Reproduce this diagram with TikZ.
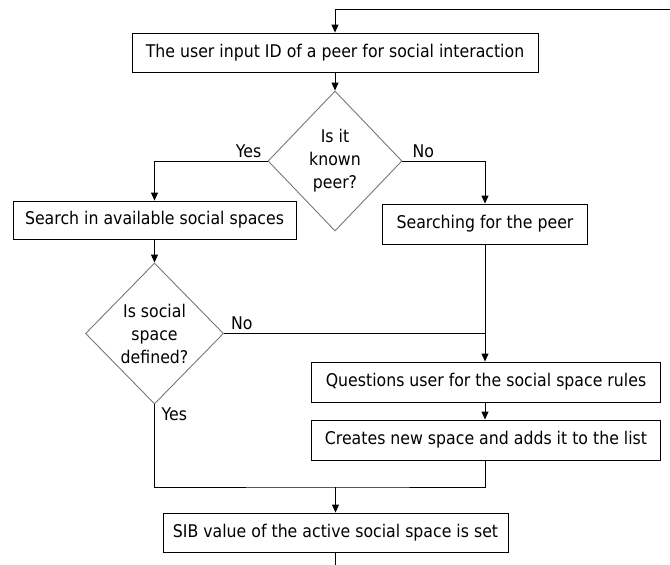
\documentclass[tikz,border=0pt]{standalone}
\usepackage{fontspec}
\setmainfont{DejaVu Sans}[FakeStretch=0.9]
\usepackage{tikz}
\usetikzlibrary{shapes.geometric,arrows.meta}
\definecolor{diamondGray}{RGB}{120,120,120}
\tikzset{
  procBox/.style={draw=black,line width=0.9pt,fill=white,inner sep=2pt,
    font=\fontsize{17.5}{23}\selectfont},
  decisionBox/.style={diamond,draw=diamondGray,line width=0.9pt,inner sep=0pt,
    align=center,font=\fontsize{17.5}{23}\selectfont},
  flowLabel/.style={inner sep=1pt,font=\fontsize{17.5}{19}\selectfont},
  flowLine/.style={line width=0.9pt,draw=black},
  flowArrow/.style={flowLine,-{Triangle[length=8pt,width=7pt]}}
}
\begin{document}
\begin{tikzpicture}[x=1pt,y=-1pt]
\useasboundingbox[fill=white] (0,0) rectangle (670,565);
% boxes
\node[procBox,minimum width=406pt,minimum height=39pt] (userInput) at (335,52.5) {The user input ID of a peer for social interaction};
\node[decisionBox,minimum width=134pt,minimum height=140pt] (knownPeer) at (335,161) {Is it\\known\\peer?};
\node[procBox,minimum width=283pt,minimum height=38pt] (searchSpaces) at (154.5,220) {Search in available social spaces};
\node[procBox,minimum width=205pt,minimum height=40pt] (searchPeer) at (485,224) {Searching for the peer};
\node[decisionBox,minimum width=138pt,minimum height=141pt] (spaceDefined) at (154.5,333.5) {Is social\\space\\defined?};
\node[procBox,minimum width=349pt,minimum height=40pt] (askRules) at (486,382) {Questions user for the social space rules};
\node[procBox,minimum width=349pt,minimum height=40pt] (createSpace) at (486,440) {Creates new space and adds it to the list};
\node[procBox,minimum width=345pt,minimum height=39pt] (setSIB) at (335.5,532.5) {SIB value of the active social space is set};
\coordinate (loopEnd) at (670,9);
\coordinate (mergeJoin) at (335.5,487);
\coordinate (flowOut) at (335.5,565);
% connectors
\draw[flowArrow] (loopEnd) -| (userInput.north);
\draw[flowArrow] (userInput.south) -- (knownPeer.north);
\draw[flowArrow] (knownPeer.west) -| (searchSpaces.north);
\draw[flowArrow] (knownPeer.east) -| (searchPeer.north);
\draw[flowArrow] (searchSpaces.south) -- (spaceDefined.north);
\draw[flowArrow] (searchPeer.south) -- (searchPeer.south |- askRules.north);
\draw[flowLine] (spaceDefined.east) -- (spaceDefined.east -| searchPeer.south);
\draw[flowArrow] (askRules.south -| searchPeer.south) -- (createSpace.north -| searchPeer.south);
\draw[flowLine] (spaceDefined.south) |- (mergeJoin) -| (createSpace.south -| searchPeer.south);
\draw[flowArrow] (mergeJoin) -- (setSIB.north);
\draw[flowLine] (setSIB.south) -- (flowOut);
% labels
\node[flowLabel,anchor=south east] (yesKnown) at ([xshift=-5pt,yshift=2pt]knownPeer.west) {Yes};
\node[flowLabel,anchor=south west] (noKnown) at ([xshift=9pt,yshift=2pt]knownPeer.east) {No};
\node[flowLabel,anchor=south west] (noDefined) at ([xshift=6pt,yshift=3pt]spaceDefined.east) {No};
\node[flowLabel,anchor=north west] (yesDefined) at ([xshift=6pt,yshift=-2pt]spaceDefined.south) {Yes};
\end{tikzpicture}
\end{document}
